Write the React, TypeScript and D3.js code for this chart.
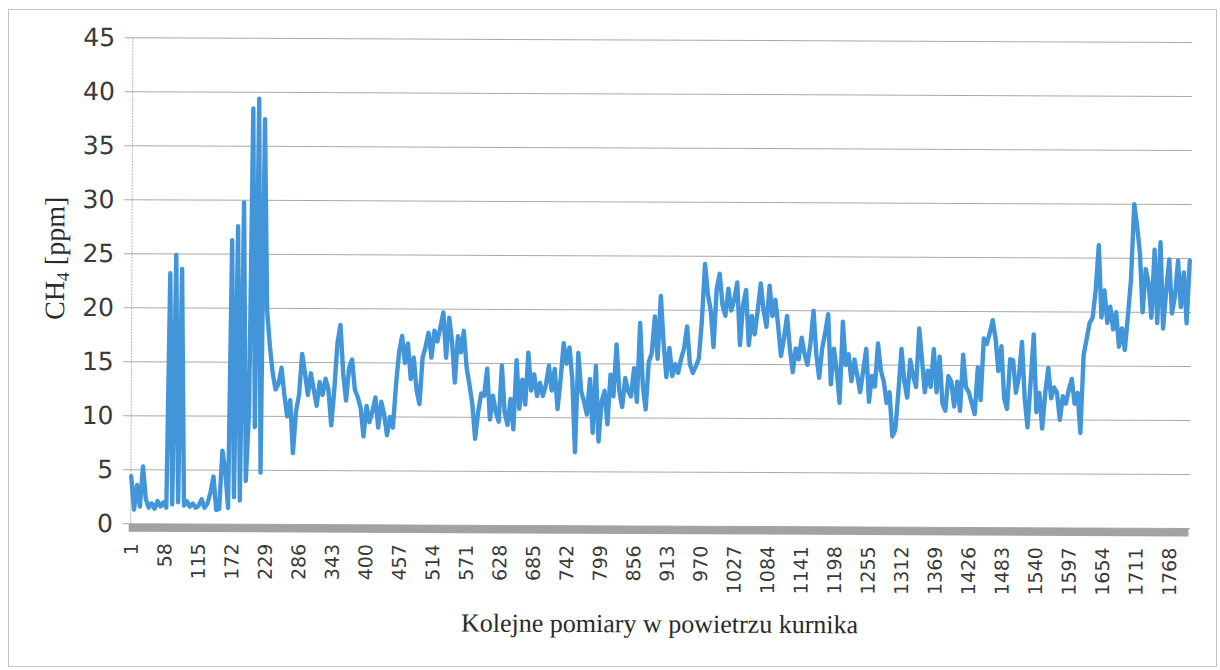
import { useEffect, useRef } from 'react';
import * as d3 from 'd3';

// number of measurements on the category axis
const measurementCount = 1802;
const sampleStep = 5;

const ch4Values = [
  4.4, 1.3, 3.6, 1.6, 5.3, 2.3, 1.5, 1.9, 1.4, 2.1,
  1.6, 2.0, 1.5, 23.2, 1.8, 24.9, 2.0, 23.6, 1.7, 2.1,
  1.6, 1.9, 1.5, 1.7, 2.3, 1.5, 1.9, 2.9, 4.4, 1.3,
  1.4, 6.8, 5.0, 1.5, 26.3, 2.5, 27.6, 2.2, 29.8, 4.0,
  10.5, 38.5, 9.0, 39.4, 4.8, 37.5, 19.8, 16.5, 14.0, 12.5,
  13.0, 14.5, 12.0, 10.0, 11.5, 6.6, 10.5, 12.0, 15.8, 14.0,
  12.0, 14.0, 12.5, 11.0, 13.2, 12.0, 13.5, 12.5, 9.2, 12.5,
  16.8, 18.5, 14.0, 11.5, 14.5, 15.3, 12.5, 11.8, 10.8, 8.2,
  11.0, 9.5, 10.5, 11.8, 9.0, 11.4, 10.2, 8.3, 10.0, 9.0,
  13.0, 16.0, 17.5, 15.0, 16.8, 13.5, 15.5, 12.5, 11.2, 15.5,
  16.5, 17.8, 15.5, 18.0, 17.0, 18.3, 19.7, 15.5, 19.2, 17.0,
  13.2, 17.5, 16.0, 18.0, 14.6, 13.0, 11.2, 8.0, 10.5, 12.2,
  12.0, 14.5, 9.8, 12.0, 10.5, 9.6, 14.8, 10.5, 9.3, 11.7,
  8.9, 15.3, 10.8, 13.5, 11.2, 16.0, 12.5, 14.0, 12.0, 13.2,
  12.0, 13.0, 14.8, 12.5, 14.5, 10.8, 13.5, 16.9, 15.0, 16.5,
  13.5, 6.8, 16.0, 12.5, 11.5, 10.3, 13.6, 8.6, 14.8, 7.8,
  11.5, 12.5, 9.4, 14.0, 12.0, 16.8, 12.5, 11.0, 13.7, 12.5,
  12.0, 14.6, 11.5, 18.8, 13.0, 10.8, 15.2, 16.0, 19.4, 15.5,
  21.3, 17.0, 13.8, 16.5, 13.9, 15.0, 14.2, 15.5, 16.5, 18.5,
  15.0, 14.2, 14.8, 15.5, 19.0, 24.3, 21.5, 20.0, 16.6, 22.0,
  23.4, 20.5, 19.5, 22.0, 20.0, 21.0, 22.6, 16.8, 20.5, 21.9,
  16.8, 19.5, 17.8, 20.0, 22.5, 20.0, 18.5, 22.3, 19.5, 21.0,
  18.5, 15.8, 17.5, 19.5, 16.5, 14.3, 16.5, 15.5, 17.5, 16.0,
  15.0, 17.0, 20.0, 16.0, 13.8, 16.5, 18.0, 19.7, 13.2, 16.5,
  14.5, 11.5, 19.0, 15.0, 16.0, 13.5, 15.5, 14.0, 12.5, 14.5,
  16.5, 11.6, 14.0, 13.0, 17.0, 14.5, 13.5, 11.5, 12.5, 8.4,
  9.0, 12.5, 16.5, 13.5, 12.0, 15.5, 14.0, 13.0, 18.4, 15.5,
  12.5, 14.5, 13.0, 16.5, 12.5, 15.8, 11.5, 10.8, 14.0, 13.5,
  11.2, 13.5, 10.8, 16.0, 13.0, 12.5, 11.5, 10.5, 14.8, 11.8,
  17.5, 17.0, 18.0, 19.2, 17.5, 14.5, 16.8, 12.0, 11.0, 15.6,
  15.5, 12.5, 14.0, 17.2, 12.0, 9.3, 13.5, 17.9, 10.7, 12.5,
  9.2, 12.5, 14.8, 12.0, 13.0, 12.5, 10.0, 12.2, 11.5, 12.8,
  13.8, 11.5, 12.5, 8.8, 16.0, 17.5, 19.0, 19.5, 22.0, 26.2,
  19.5, 22.0, 19.0, 20.5, 18.4, 20.0, 16.8, 18.5, 16.5, 19.6,
  23.0, 30.0, 28.0, 25.5, 20.0, 24.0, 22.7, 19.5, 25.8, 19.0,
  26.5, 18.5, 22.0, 24.9, 19.9, 21.5, 24.8, 20.5, 23.7, 19.0,
  24.8,
];

const xTickLabels = [
  1, 58, 115, 172, 229, 286, 343, 400, 457, 514, 571, 628, 685, 742, 799, 856,
  913, 970, 1027, 1084, 1141, 1198, 1255, 1312, 1369, 1426, 1483, 1540, 1597,
  1654, 1711, 1768,
];

const yTickValues = [0, 5, 10, 15, 20, 25, 30, 35, 40, 45];

const xAxisTitle = 'Kolejne pomiary w powietrzu kurnika';

const dims = {
  width: 1220,
  height: 670,
  left: 130.7,
  right: 1189.5,
  top: 37.7,
  bottom: 523.7,
};

export default function App() {
  const svgRef = useRef<SVGSVGElement | null>(null);

  useEffect(() => {
    const svg = d3.select(svgRef.current);
    svg.selectAll('*').remove();

    // scanned page frame
    svg
      .append('rect')
      .attr('x', 8.5)
      .attr('y', 9.5)
      .attr('width', 1208)
      .attr('height', 657)
      .attr('fill', 'none')
      .attr('stroke', '#c4c4c4')
      .attr('stroke-width', 1);

    // the scan is tilted a little clockwise
    const chart = svg.append('g').attr('transform', 'rotate(0.26 131 524)');

    const xScale = d3
      .scaleLinear()
      .domain([0.5, measurementCount + 0.5])
      .range([dims.left, dims.right]);
    const yScale = d3
      .scaleLinear()
      .domain([0, 45])
      .range([dims.bottom, dims.top]);

    // gridlines
    chart
      .append('g')
      .selectAll('line')
      .data(yTickValues)
      .join('line')
      .attr('x1', dims.left - 8)
      .attr('x2', dims.right + 0.5)
      .attr('y1', (d) => yScale(d))
      .attr('y2', (d) => yScale(d))
      .attr('stroke', '#a9a9a9')
      .attr('stroke-width', 1);

    // value axis line
    chart
      .append('line')
      .attr('x1', dims.left)
      .attr('x2', dims.left)
      .attr('y1', dims.top)
      .attr('y2', dims.bottom)
      .attr('stroke', '#b5b5b5')
      .attr('stroke-dasharray', '2 1');

    // thick grey category axis
    chart
      .append('rect')
      .attr('x', dims.left - 2)
      .attr('y', yScale(0))
      .attr('width', dims.right - dims.left + 1)
      .attr('height', 8)
      .attr('fill', '#a2a2a2');

    const line = d3
      .line<number>()
      .x((_, k) => xScale(1 + k * sampleStep))
      .y((d) => yScale(d));

    chart
      .append('path')
      .datum(ch4Values)
      .attr('d', line)
      .attr('fill', 'none')
      .attr('stroke', '#4295d8')
      .attr('stroke-width', 4.4)
      .attr('stroke-linejoin', 'round')
      .attr('stroke-linecap', 'round');

    // y tick labels
    chart
      .append('g')
      .selectAll('text')
      .data(yTickValues)
      .join('text')
      .attr('x', 113)
      .attr('y', (d) => yScale(d))
      .attr('text-anchor', 'end')
      .attr('dominant-baseline', 'central')
      .style('font-family', '"DejaVu Sans", sans-serif')
      .style('font-size', '25px')
      .attr('fill', '#3a3a3a')
      .text((d) => `${d}`);

    // x tick labels, rotated
    chart
      .append('g')
      .selectAll('text')
      .data(xTickLabels)
      .join('text')
      .attr('transform', (d) => `translate(${xScale(d)}, 543) rotate(-90)`)
      .attr('text-anchor', 'end')
      .attr('dominant-baseline', 'central')
      .style('font-family', '"DejaVu Sans", sans-serif')
      .style('font-size', '19px')
      .attr('fill', '#3a3a3a')
      .text((d) => `${d}`);

    // axis titles
    chart
      .append('text')
      .attr('x', 660)
      .attr('y', 630)
      .attr('text-anchor', 'middle')
      .style('font-family', '"Liberation Serif", serif')
      .style('font-size', '26px')
      .attr('fill', '#2a2a2a')
      .text(xAxisTitle);

    const yTitle = chart
      .append('text')
      .attr('transform', 'translate(63, 197) rotate(-90)')
      .attr('text-anchor', 'end')
      .style('font-family', '"Liberation Serif", serif')
      .style('font-size', '28px')
      .attr('fill', '#2a2a2a');
    yTitle.append('tspan').text('CH');
    yTitle.append('tspan').attr('dy', 5).style('font-size', '18px').text('4');
    yTitle.append('tspan').attr('dy', -5).text(' [ppm]');
  }, []);

  return (
    <svg
      ref={svgRef}
      width={dims.width}
      height={dims.height}
      style={{ position: 'absolute', left: 0, top: 0, background: '#fff' }}
    />
  );
}
